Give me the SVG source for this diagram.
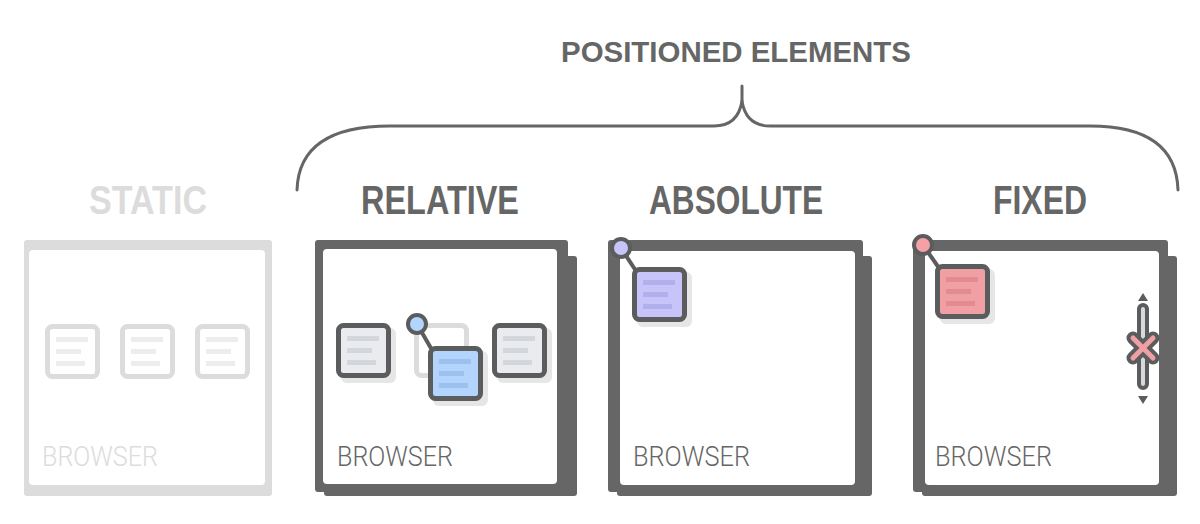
<svg xmlns="http://www.w3.org/2000/svg" width="1200" height="524" viewBox="0 0 1200 524">
<defs>
<style>
.frame{fill:#666}
.white{fill:#fff}
.title{font-family:"Liberation Sans",Arial,sans-serif;font-weight:bold;fill:#666}
.browser{font-family:Roboto,"Liberation Sans",sans-serif;font-weight:300;font-size:28px;fill:#666}
.ico{stroke:#5b5c5e;stroke-width:5}
.pin{stroke:#5b5c5e;stroke-width:4}
.shadow{fill:#e6e6e6}
.brace{fill:none;stroke:#666;stroke-width:3;stroke-linecap:round;stroke-linejoin:round}
</style>
<symbol id="lines" overflow="visible">
<rect x="11" y="13" width="32" height="5"/>
<rect x="11" y="25" width="25" height="5"/>
<rect x="11" y="37" width="29" height="5"/>
</symbol>
</defs>
<rect width="1200" height="524" fill="none"/>

<g id="connectors">
<path class="brace" d="M297,190 Q299,126 390,126 L714,126 Q738,126 742,101 Q746,126 770,126 L1090,126 Q1176,126 1178,190"/>
<path class="brace" d="M742,101 L742,86"/>
</g>

<g id="title-positioned">
<text class="title" x="561" y="62" font-size="30" textLength="350" lengthAdjust="spacingAndGlyphs">POSITIONED ELEMENTS</text>
</g>

<g id="static">
<text class="title" x="89" y="214" font-size="40" fill="#dcdcdc" style="fill:#dcdcdc" textLength="118" lengthAdjust="spacingAndGlyphs">STATIC</text>
<rect x="24" y="240" width="248" height="256" rx="3" fill="#dcdcdc"/>
<rect x="29" y="250" width="236" height="235" rx="4" class="white"/>
<rect x="47.5" y="326.5" width="50" height="50" rx="5" fill="#fff" stroke="#dcdcdc" stroke-width="5"/>
<use href="#lines" x="45" y="324" fill="#ededed"/>
<rect x="122.5" y="326.5" width="50" height="50" rx="5" fill="#fff" stroke="#dcdcdc" stroke-width="5"/>
<use href="#lines" x="120" y="324" fill="#ededed"/>
<rect x="197.5" y="326.5" width="50" height="50" rx="5" fill="#fff" stroke="#dcdcdc" stroke-width="5"/>
<use href="#lines" x="195" y="324" fill="#ededed"/>
<text class="browser" x="42" y="466" style="fill:#dcdcdc" textLength="116" lengthAdjust="spacingAndGlyphs">BROWSER</text>
</g>

<g id="relative">
<text class="title" x="361" y="214" font-size="40" textLength="158" lengthAdjust="spacingAndGlyphs">RELATIVE</text>
<rect x="324" y="256" width="253" height="240" rx="3" class="frame"/>
<rect x="315" y="240" width="253" height="252" rx="3" class="frame"/>
<rect x="323" y="249" width="234" height="235" rx="4" class="white"/>
<rect x="341" y="328" width="55" height="55" rx="6" class="shadow"/>
<rect x="338.5" y="325.5" width="50" height="50" rx="5" fill="#e9ebee" class="ico"/>
<use href="#lines" x="336" y="323" fill="#d3d6da"/>
<rect x="416.5" y="325.5" width="50" height="50" rx="5" fill="#fff" stroke="#dcdcdc" stroke-width="5"/>
<line x1="417" y1="324" x2="432" y2="350" class="pin"/>
<rect x="433" y="351" width="55" height="55" rx="6" class="shadow"/>
<rect x="430.5" y="348.5" width="50" height="50" rx="5" fill="#b3d4fc" class="ico"/>
<use href="#lines" x="428" y="346" fill="#9dc1ee"/>
<circle cx="417" cy="324" r="9" fill="#b3d4fc" class="pin"/>
<rect x="497" y="328" width="55" height="55" rx="6" class="shadow"/>
<rect x="494.5" y="325.5" width="50" height="50" rx="5" fill="#e9ebee" class="ico"/>
<use href="#lines" x="492" y="323" fill="#d3d6da"/>
<text class="browser" x="337" y="466" textLength="116" lengthAdjust="spacingAndGlyphs">BROWSER</text>
</g>

<g id="absolute">
<text class="title" x="649" y="214" font-size="40" textLength="174" lengthAdjust="spacingAndGlyphs">ABSOLUTE</text>
<rect x="617" y="256" width="255" height="240" rx="3" class="frame"/>
<rect x="608" y="240" width="255" height="252" rx="3" class="frame"/>
<rect x="620" y="251" width="235" height="234" rx="4" class="white"/>
<line x1="621" y1="248" x2="636" y2="271" class="pin"/>
<rect x="637" y="272" width="55" height="55" rx="6" class="shadow"/>
<rect x="634.5" y="269.5" width="50" height="50" rx="5" fill="#c6c4f8" class="ico"/>
<use href="#lines" x="632" y="267" fill="#b2afec"/>
<circle cx="621" cy="248" r="9" fill="#c6c4f8" class="pin"/>
<text class="browser" x="633" y="466" textLength="117" lengthAdjust="spacingAndGlyphs">BROWSER</text>
</g>

<g id="fixed">
<text class="title" x="993" y="214" font-size="40" textLength="94" lengthAdjust="spacingAndGlyphs">FIXED</text>
<rect x="922" y="256" width="255" height="240" rx="3" class="frame"/>
<rect x="913" y="240" width="255" height="252" rx="3" class="frame"/>
<rect x="925" y="251" width="234" height="234" rx="4" class="white"/>
<line x1="923" y1="245" x2="939" y2="268" class="pin"/>
<rect x="940" y="269" width="55" height="55" rx="6" class="shadow"/>
<rect x="937.5" y="266.5" width="50" height="50" rx="5" fill="#f09fa3" class="ico"/>
<use href="#lines" x="935" y="264" fill="#e28b90"/>
<circle cx="923" cy="245" r="9" fill="#f4a1a5" class="pin"/>
<g id="scrollbar">
<polygon points="1143,293 1138,301 1148,301" fill="#5b5c5e"/>
<polygon points="1138,396 1148,396 1143,404" fill="#5b5c5e"/>
<rect x="1139" y="305" width="8" height="83" rx="4" fill="#d7d9dc" class="pin"/>
<path d="M1133,338 L1153,358 M1153,338 L1133,358" fill="none" stroke="#5b5c5e" stroke-width="13" stroke-linecap="round"/>
<path d="M1133,338 L1153,358 M1153,338 L1133,358" fill="none" stroke="#f09fa3" stroke-width="5" stroke-linecap="round"/>
</g>
<text class="browser" x="935" y="466" textLength="117" lengthAdjust="spacingAndGlyphs">BROWSER</text>
</g>
</svg>
